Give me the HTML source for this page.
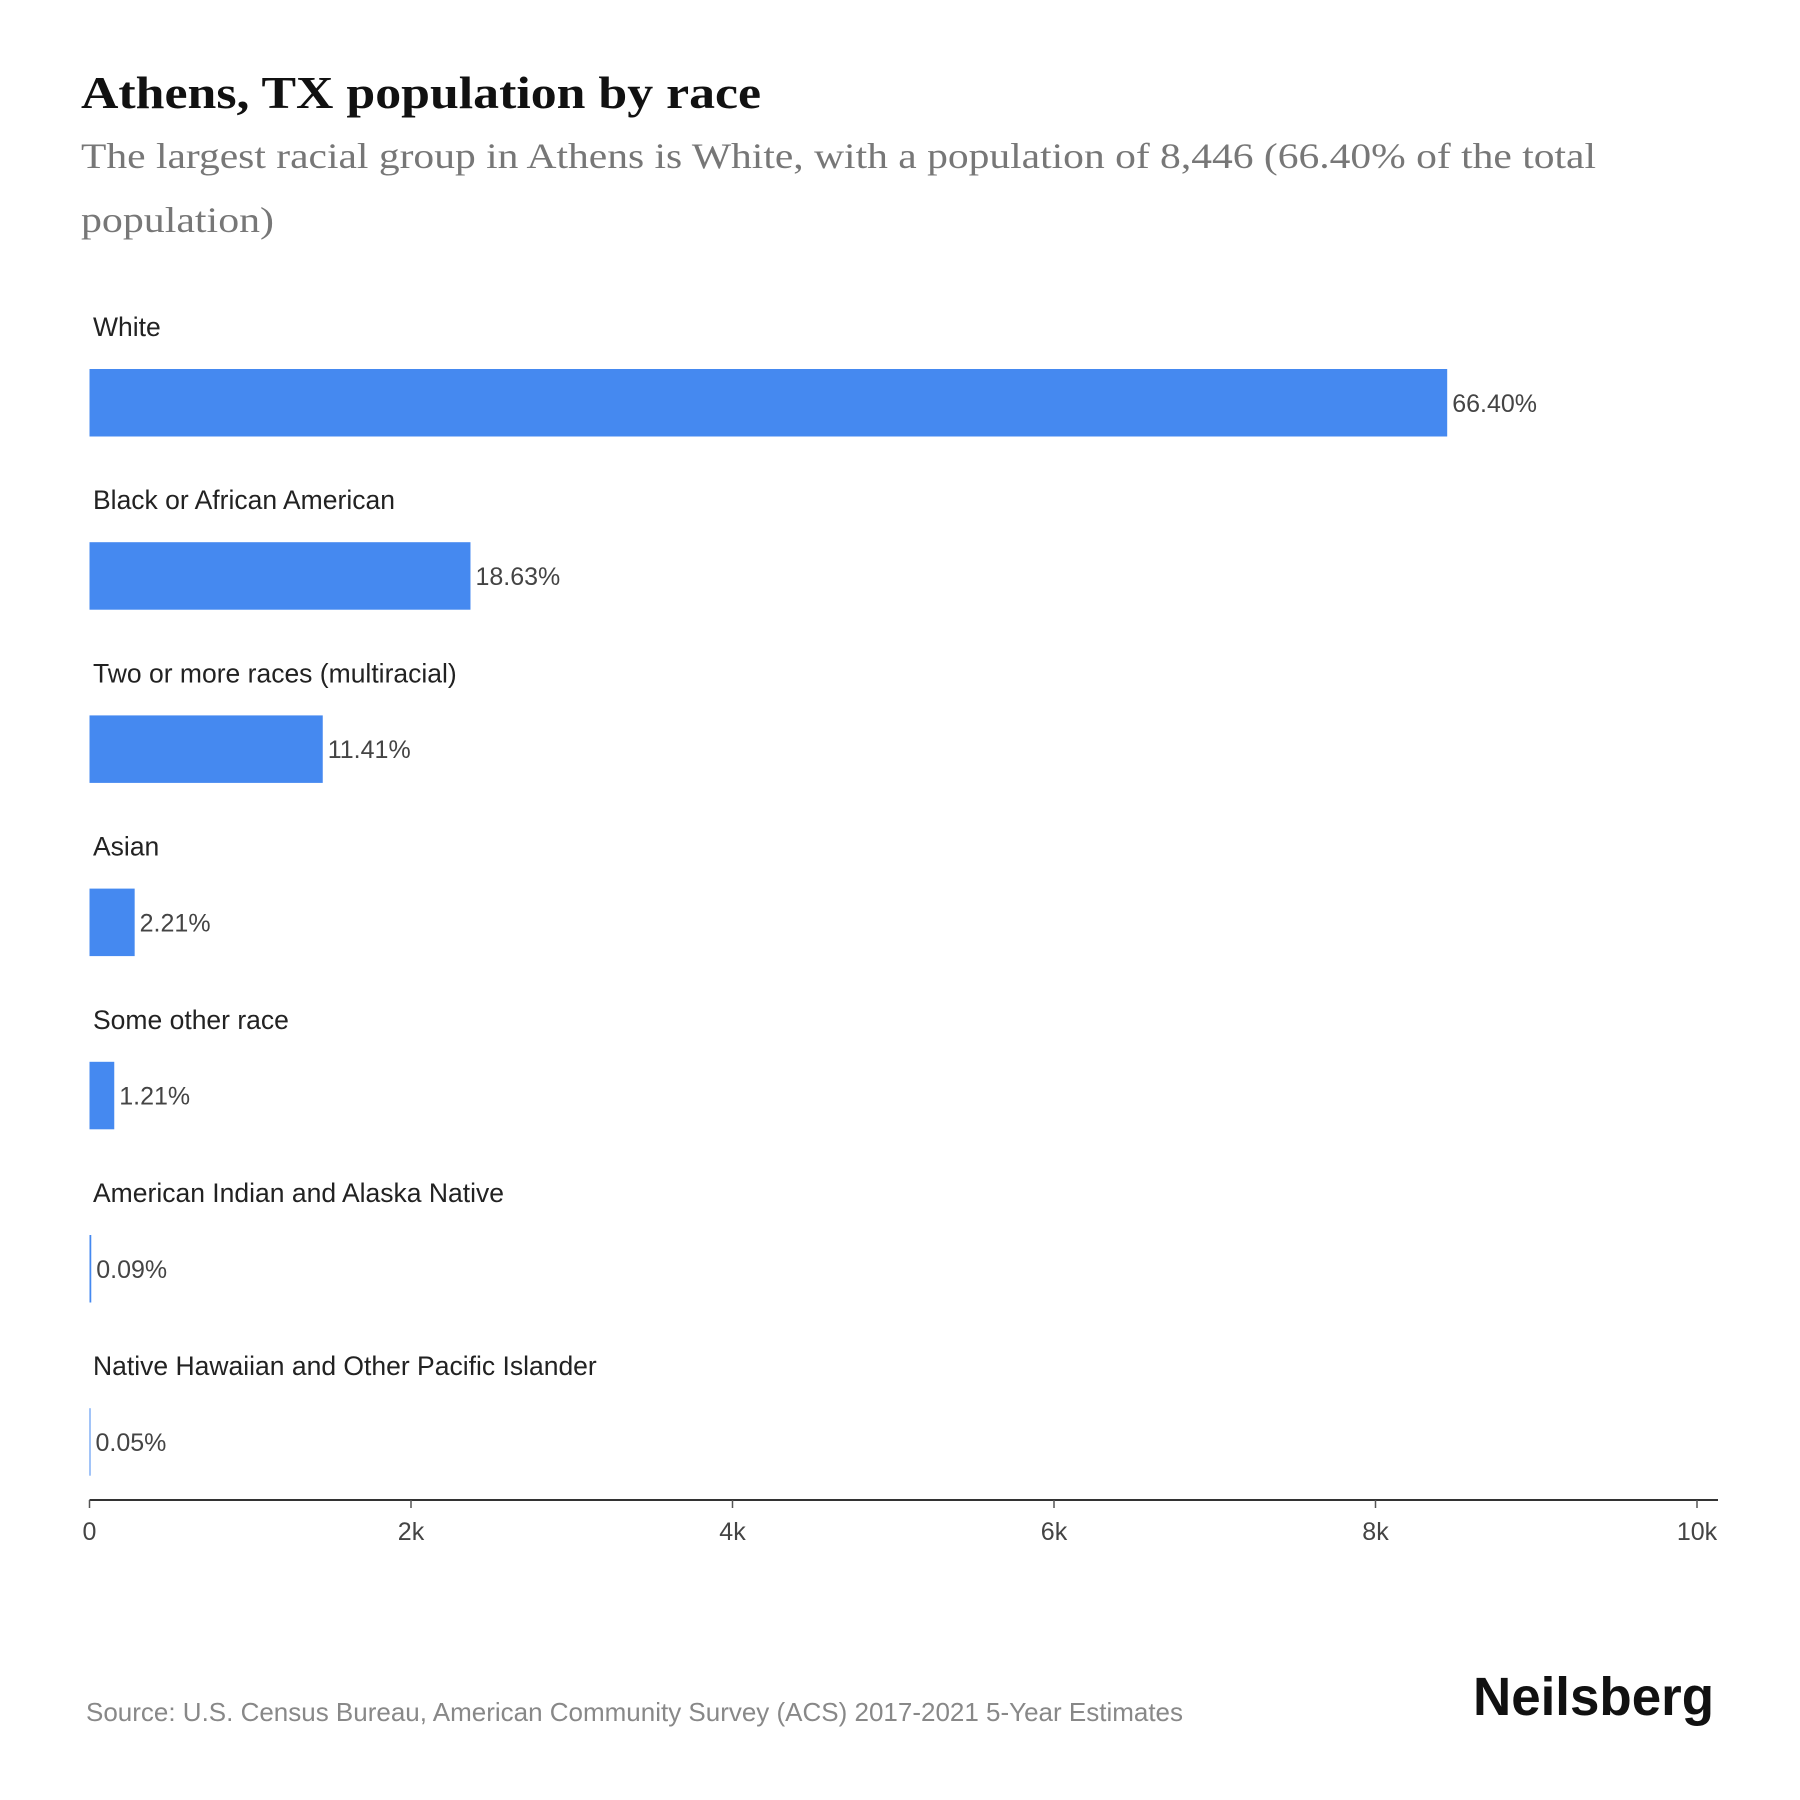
<!DOCTYPE html>
<html><head><meta charset="utf-8"><style>
html,body{margin:0;padding:0;background:#fff;}
svg{display:block;}
</style></head><body>
<svg id="chart" width="1800" height="1800" viewBox="0 0 1800 1800" xmlns="http://www.w3.org/2000/svg">
<text x="81" y="108" font-family="Liberation Serif, serif" font-weight="bold" font-size="46" fill="#111" textLength="680" lengthAdjust="spacingAndGlyphs">Athens, TX population by race</text>
<text x="81" y="168" font-family="Liberation Serif, serif" font-size="36" fill="#777" textLength="1515" lengthAdjust="spacingAndGlyphs">The largest racial group in Athens is White, with a population of 8,446 (66.40% of the total</text>
<text x="81" y="232" font-family="Liberation Serif, serif" font-size="36" fill="#777" textLength="193" lengthAdjust="spacingAndGlyphs">population)</text>
<g id="bars"></g>
<g id="axis"></g>
<text x="86" y="1721" font-family="Liberation Sans, sans-serif" font-size="26" fill="#888" textLength="1097" lengthAdjust="spacingAndGlyphs">Source: U.S. Census Bureau, American Community Survey (ACS) 2017-2021 5-Year Estimates</text>
<text x="1473" y="1715" font-family="Liberation Sans, sans-serif" font-weight="bold" font-size="54" fill="#111" textLength="241" lengthAdjust="spacingAndGlyphs">Neilsberg</text>
</svg>
<script>
const categories = ["White","Black or African American","Two or more races (multiracial)","Asian","Some other race","American Indian and Alaska Native","Native Hawaiian and Other Pacific Islander"];
const populations = [8446, 2370, 1451, 281, 154, 11, 6];
const percentLabels = ["66.40%","18.63%","11.41%","2.21%","1.21%","0.09%","0.05%"];
const tickValues = [0, 2000, 4000, 6000, 8000, 10000];
const tickLabels = ["0","2k","4k","6k","8k","10k"];

const NS = "http://www.w3.org/2000/svg";
const x0 = 89.5, x1 = 1697, xMax = 10000;
function xScale(v){ return x0 + (v / xMax) * (x1 - x0); }
const firstBarTop = 369, step = 173.2, barH = 67.5;
function yBar(i){ return firstBarTop + i * step; }

const bars = document.getElementById('bars');
categories.forEach((c, i) => {
  const lab = document.createElementNS(NS, 'text');
  
  
  lab.setAttribute('x', 93);
  lab.setAttribute('y', yBar(i) - 33);
  lab.setAttribute('font-family', 'Liberation Sans, sans-serif');
  lab.setAttribute('font-size', '26.5');
  lab.setAttribute('fill', '#222');
  lab.textContent = c;
  bars.appendChild(lab);

  const w = Math.max(xScale(populations[i]) - x0, 1);
  const r = document.createElementNS(NS, 'rect');
  
  
  r.setAttribute('x', x0);
  r.setAttribute('y', yBar(i));
  r.setAttribute('width', w);
  r.setAttribute('height', barH);
  r.setAttribute('fill', '#4589f0');
  bars.appendChild(r);

  const v = document.createElementNS(NS, 'text');
  
  
  v.setAttribute('x', x0 + w + 5);
  v.setAttribute('y', yBar(i) + barH / 2 + 9);
  v.setAttribute('font-family', 'Liberation Sans, sans-serif');
  v.setAttribute('font-size', '25');
  v.setAttribute('fill', '#444');
  v.textContent = percentLabels[i];
  bars.appendChild(v);
});

const axis = document.getElementById('axis');
const axisY = 1500;
const line = document.createElementNS(NS, 'line');


line.setAttribute('x1', x0); line.setAttribute('x2', 1718);
line.setAttribute('y1', axisY); line.setAttribute('y2', axisY);
line.setAttribute('stroke', '#333'); line.setAttribute('stroke-width', '2');
axis.appendChild(line);
tickValues.forEach((t, i) => {
  const tx = xScale(t);
  const tk = document.createElementNS(NS, 'line');
  
  
  tk.setAttribute('x1', tx); tk.setAttribute('x2', tx);
  tk.setAttribute('y1', axisY); tk.setAttribute('y2', axisY + 8);
  tk.setAttribute('stroke', '#555'); tk.setAttribute('stroke-width', '1.5');
  axis.appendChild(tk);
  const tl = document.createElementNS(NS, 'text');
  
  
  tl.setAttribute('x', tx);
  tl.setAttribute('y', axisY + 40);
  tl.setAttribute('text-anchor', 'middle');
  tl.setAttribute('font-family', 'Liberation Sans, sans-serif');
  tl.setAttribute('font-size', '25');
  tl.setAttribute('fill', '#444');
  tl.textContent = tickLabels[i];
  axis.appendChild(tl);
});
</script>
</body></html>
